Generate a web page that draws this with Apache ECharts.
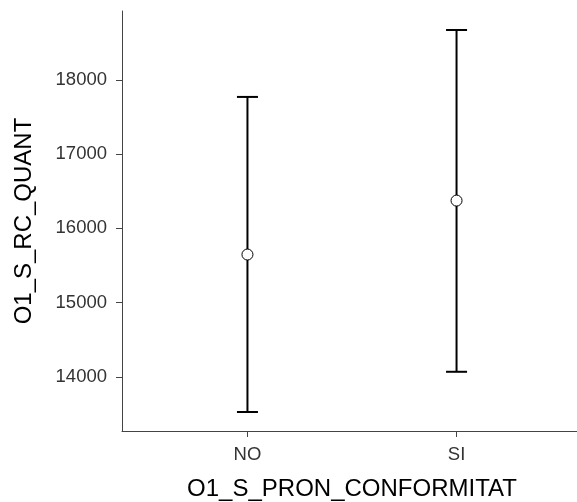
<!DOCTYPE html>
<html>
<head>
<meta charset="utf-8">
<script src="https://cdn.jsdelivr.net/npm/echarts@6/dist/echarts.min.js"></script>
<style>html,body{margin:0;padding:0;background:#fff}#c{width:577px;height:502px}</style>
</head>
<body>
<div id="c"></div>
<script>
var categories = ['NO', 'SI'];
var means = [15647, 16374];
var lowers = [13525, 14067];
var uppers = [17771, 18673];
var yTicks = [14000, 15000, 16000, 17000, 18000];
var xTitle = 'O1_S_PRON_CONFORMITAT';
var yTitle = 'O1_S_RC_QUANT';

var data = categories.map(function (c, i) { return [i + 1, means[i], lowers[i], uppers[i]]; });
var FONT = 'Liberation Sans';
var chart = echarts.init(document.getElementById('c'));
chart.setOption({
  animation: false,
  backgroundColor: '#fff',
  grid: { left: 122, right: -5, top: 11, bottom: 71, containLabel: false, outerBoundsMode: 'none' },
  xAxis: {
    type: 'value', min: 0.4, max: 2.6,
    name: xTitle, nameLocation: 'middle', nameGap: 46,
    nameTextStyle: { fontFamily: FONT, fontSize: 24, color: '#000' },
    axisLine: { show: true, lineStyle: { color: '#444', width: 1 } },
    axisTick: { show: true, length: 6, customValues: [1, 2], lineStyle: { color: '#444' } },
    axisLabel: { customValues: [1, 2], margin: 14, fontFamily: FONT, fontSize: 18.5, color: '#333',
      formatter: function (v) { return categories[Math.round(v) - 1] || ''; } },
    splitLine: { show: false }
  },
  yAxis: {
    type: 'value', min: 13269, max: 18929,
    name: yTitle, nameLocation: 'middle', nameGap: 86, nameRotate: 90,
    nameTextStyle: { fontFamily: FONT, fontSize: 24, color: '#000' },
    axisLine: { show: true, lineStyle: { color: '#444', width: 1 } },
    axisTick: { show: true, length: 6, customValues: yTicks, lineStyle: { color: '#444' } },
    axisLabel: { customValues: yTicks, margin: 15, fontFamily: FONT, fontSize: 18.5, color: '#333',
      formatter: function (v) { return String(v); } },
    splitLine: { show: false }
  },
  series: [{
    type: 'custom',
    data: data,
    encode: { x: 0, y: [1, 2, 3] },
    renderItem: function (params, api) {
      var x = api.value(0);
      var pm = api.coord([x, api.value(1)]);
      var pl = api.coord([x, api.value(2)]);
      var pu = api.coord([x, api.value(3)]);
      var hw = 10.5;
      var ls = { stroke: '#000', lineWidth: 2 };
      return {
        type: 'group',
        children: [
          { type: 'line', shape: { x1: pm[0], y1: pl[1], x2: pm[0], y2: pu[1] }, style: ls },
          { type: 'line', shape: { x1: pm[0] - hw, y1: pl[1], x2: pm[0] + hw, y2: pl[1] }, style: ls },
          { type: 'line', shape: { x1: pm[0] - hw, y1: pu[1], x2: pm[0] + hw, y2: pu[1] }, style: ls },
          { type: 'circle', shape: { cx: pm[0], cy: pm[1], r: 5.5 }, style: { fill: '#fff', stroke: '#000', lineWidth: 1 } }
        ]
      };
    }
  }]
});
</script>
</body>
</html>
